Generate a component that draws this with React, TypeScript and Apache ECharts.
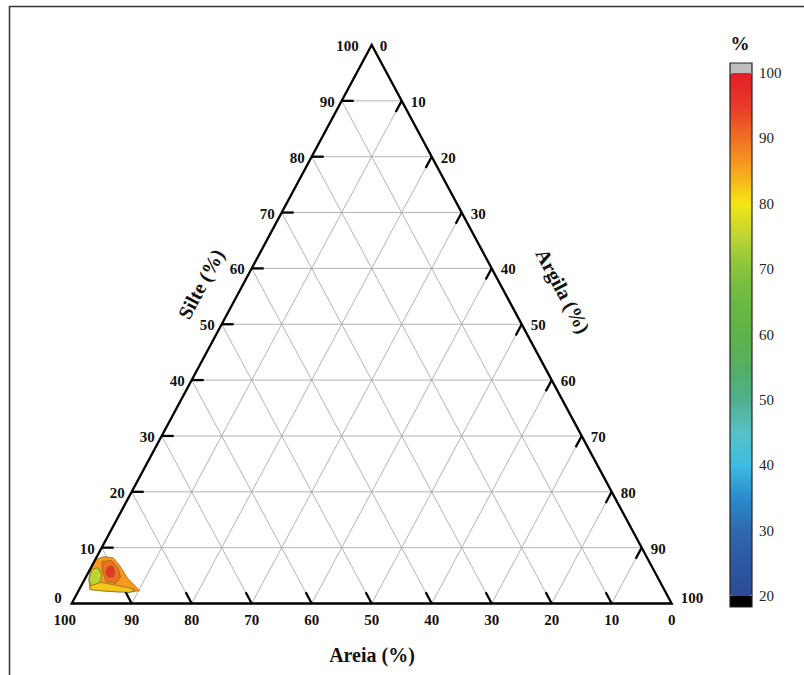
import React, { useEffect, useRef } from 'react';
import * as echarts from 'echarts';

// ---- data ----
const gridTicks = [10, 20, 30, 40, 50, 60, 70, 80, 90];
const edgeTickLabels = [0, 10, 20, 30, 40, 50, 60, 70, 80, 90, 100];
const colorbarTicks = [20, 30, 40, 50, 60, 70, 80, 90, 100];
const colorbarMin = 20;
const colorbarMax = 100;
// colours at 20, 25, ... 100
const colorbarColors = [
  '#2B4B97', '#2C58A3', '#2E69B0', '#2A8BCC', '#3DBBE3', '#58C1C6', '#4FB08F', '#55AF62',
  '#5DB347', '#6AB944', '#88C33E', '#BDD532', '#F4E515', '#F7A51D', '#F07023', '#E9392A', '#E41E26',
];

// filled contour regions, points as [Areia %, Silte %]
const contourLevels = [86, 82.5, 75, 90, 96];
const contourOuter = [[95.7, 2.5], [95.0, 4.3], [93.6, 6.4], [92.1, 7.9], [90.4, 8.4], [89.0, 8.2], [88.6, 6.8], [88.4, 4.5], [87.5, 2.3], [89.3, 2.0], [91.7, 2.1], [94.2, 2.3]];
const contourYellow = [[95.4, 3.2], [93.4, 3.8], [91.6, 3.4], [89.8, 3.0], [88.2, 2.5], [89.3, 2.0], [91.7, 2.1], [94.2, 2.3], [95.7, 2.5]];
const contourGreen = [[93.6, 6.1], [92.4, 6.4], [92.4, 5.2], [93.4, 3.8], [95.1, 3.2], [95.0, 4.3]];
const contourDarkOrange = [[91.2, 7.5], [89.5, 7.7], [89.1, 6.4], [89.5, 4.7], [90.9, 3.6], [92.3, 3.9], [92.0, 5.7]];
const contourRed = [[90.9, 6.4], [89.9, 6.8], [89.9, 5.9], [90.6, 4.8], [91.5, 4.7], [91.6, 5.4]];
const contourPolygons = [contourOuter, contourYellow, contourGreen, contourDarkOrange, contourRed];

const titleAreia = 'Areia (%)';
const titleSilte = 'Silte (%)';
const titleArgila = 'Argila (%)';
const titleColorbar = '%';

// ---- helpers ----
const toXY = (areia: number, silte: number) => [100 - areia - silte / 2, silte];
const FONT = '"Liberation Serif", "Times New Roman", serif';

function gridSeg(f: number, t: number) {
  if (f === 0) return [[100 - t, t], [0, t]];
  if (f === 1) return [[t, 0], [t, 100 - t]];
  return [[100 - t, 0], [0, 100 - t]];
}
function tickSeg(f: number, t: number) {
  if (f === 0) return [[100 - t, t], [100 - t - 2, t]];
  if (f === 1) return [[t, 0], [t, 2]];
  return [[0, 100 - t], [2, 100 - t - 2]];
}

export default function App() {
  const ref = useRef<HTMLDivElement>(null);
  useEffect(() => {
    if (!ref.current) return;
    const chart = echarts.init(ref.current, null, { renderer: 'svg' });

    const famData: number[][] = [];
    [0, 1, 2].forEach((f) => gridTicks.forEach((t) => famData.push([f, t])));
    const labelData: number[][] = [];
    [0, 1, 2].forEach((f) => edgeTickLabels.forEach((v) => labelData.push([f, v])));

    const lineItem = (api: any, seg: number[][], stroke: string, w: number) => {
      const a = api.coord(toXY(seg[0][0], seg[0][1]));
      const b = api.coord(toXY(seg[1][0], seg[1][1]));
      return { type: 'line', shape: { x1: a[0], y1: a[1], x2: b[0], y2: b[1] }, style: { stroke, lineWidth: w } };
    };

    const option: any = {
      animation: false,
      backgroundColor: '#ffffff',
      grid: [
        { left: 71.7, top: 45, width: 600, height: 558.5 },
        { left: 730, top: 73, width: 22, height: 523 },
      ],
      xAxis: [
        { type: 'value', min: 0, max: 100, show: false, gridIndex: 0 },
        { type: 'value', min: 0, max: 1, show: false, gridIndex: 1 },
      ],
      yAxis: [
        { type: 'value', min: 0, max: 100, show: false, gridIndex: 0 },
        {
          type: 'value', gridIndex: 1, min: colorbarMin, max: colorbarMax, interval: 10, position: 'right',
          axisLine: { show: false }, axisTick: { show: false }, splitLine: { show: false },
          axisLabel: { margin: 7, fontFamily: FONT, fontSize: 15, color: '#222', customValues: colorbarTicks },
        },
      ],
      visualMap: [
        {
          type: 'continuous', min: colorbarMin, max: colorbarMax, show: true, calculable: false,
          orient: 'vertical', left: 730, top: 73, itemWidth: 22, itemHeight: 523, padding: 0,
          text: [], hoverLink: false, seriesIndex: 1, dimension: 0,
          inRange: { color: colorbarColors },
        },
      ],
      graphic: [
        { type: 'line', shape: { x1: 9, y1: 6.5, x2: 804, y2: 6.5 }, style: { stroke: '#333', lineWidth: 1.5 } },
        { type: 'line', shape: { x1: 9.5, y1: 6, x2: 9.5, y2: 675 }, style: { stroke: '#333', lineWidth: 1.5 } },
        { type: 'rect', shape: { x: 730, y: 63, width: 22, height: 10 }, style: { fill: '#BEBEBE' } },
        { type: 'rect', shape: { x: 730, y: 596, width: 22, height: 11 }, style: { fill: '#000' } },
        { type: 'rect', z: 100, shape: { x: 730, y: 63, width: 22, height: 544 }, style: { fill: 'none', stroke: '#222', lineWidth: 1.2 } },
        { type: 'text', x: 740, y: 43, style: { text: titleColorbar, font: `bold 19px ${FONT}`, fill: '#111', align: 'center', verticalAlign: 'middle' } },
        { type: 'text', x: 372, y: 655, style: { text: titleAreia, font: `bold 20px ${FONT}`, fill: '#111', align: 'center', verticalAlign: 'middle' } },
        { type: 'text', x: 201, y: 284, rotation: 1.078, style: { text: titleSilte, font: `bold 20px ${FONT}`, fill: '#111', align: 'center', verticalAlign: 'middle' } },
        { type: 'text', x: 563, y: 291, rotation: -1.078, style: { text: titleArgila, font: `bold 20px ${FONT}`, fill: '#111', align: 'center', verticalAlign: 'middle' } },
      ],
      series: [
        {
          type: 'custom', xAxisIndex: 0, yAxisIndex: 0, z: 1, silent: true,
          data: famData,
          renderItem: (_p: any, api: any) => lineItem(api, gridSeg(api.value(0), api.value(1)), '#a0a0a0', 0.8),
        },
        {
          type: 'custom', xAxisIndex: 0, yAxisIndex: 0, z: 2, silent: true,
          data: contourLevels.map((lv, i) => [lv, i]),
          renderItem: (_p: any, api: any) => {
            const poly = contourPolygons[api.value(1)];
            const points = poly.map((p) => api.coord(toXY(p[0], p[1])));
            return { type: 'polygon', shape: { points }, style: { fill: api.visual('color'), stroke: '#6b5a22', lineWidth: 0.6 } };
          },
        },
        {
          type: 'custom', xAxisIndex: 0, yAxisIndex: 0, z: 3, silent: true,
          data: [[0]],
          renderItem: (_p: any, api: any) => {
            const pts = [toXY(100, 0), toXY(0, 100), toXY(0, 0)].map((p) => api.coord(p));
            return { type: 'polygon', shape: { points: pts }, style: { fill: 'none', stroke: '#000', lineWidth: 2.3 } };
          },
        },
        {
          type: 'custom', xAxisIndex: 0, yAxisIndex: 0, z: 4, silent: true,
          data: famData,
          renderItem: (_p: any, api: any) => lineItem(api, tickSeg(api.value(0), api.value(1)), '#000', 2.3),
        },
        {
          type: 'custom', xAxisIndex: 0, yAxisIndex: 0, z: 5, silent: true,
          data: labelData,
          renderItem: (_p: any, api: any) => {
            const f = api.value(0);
            const v = api.value(1);
            let anchor: number[];
            let dx = 0, dy = 0, align = 'center';
            if (f === 0) {
              anchor = [100 - v, v]; dx = -7; dy = 1; align = 'right';
              if (v === 0) { dx = -10; dy = -6; }
              if (v === 100) { dx = -13; }
            } else if (f === 1) {
              anchor = [v, 0]; dx = 0; dy = 16;
              if (v === 100) dx = -7;
            } else {
              anchor = [0, 100 - v]; dx = 9; dy = 1; align = 'left';
              if (v === 0) dx = 8;
              if (v === 100) { dx = 9; dy = -6; }
            }
            const c = api.coord(toXY(anchor[0], anchor[1]));
            return {
              type: 'text', x: c[0] + dx, y: c[1] + dy,
              style: { text: String(v), font: `bold 15px ${FONT}`, fill: '#111', align, verticalAlign: 'middle' },
            };
          },
        },
      ],
    };
    chart.setOption(option);
    return () => chart.dispose();
  }, []);
  return <div ref={ref} style={{ position: 'absolute', left: 0, top: 0, width: 804, height: 675, background: '#fff' }} />;
}
